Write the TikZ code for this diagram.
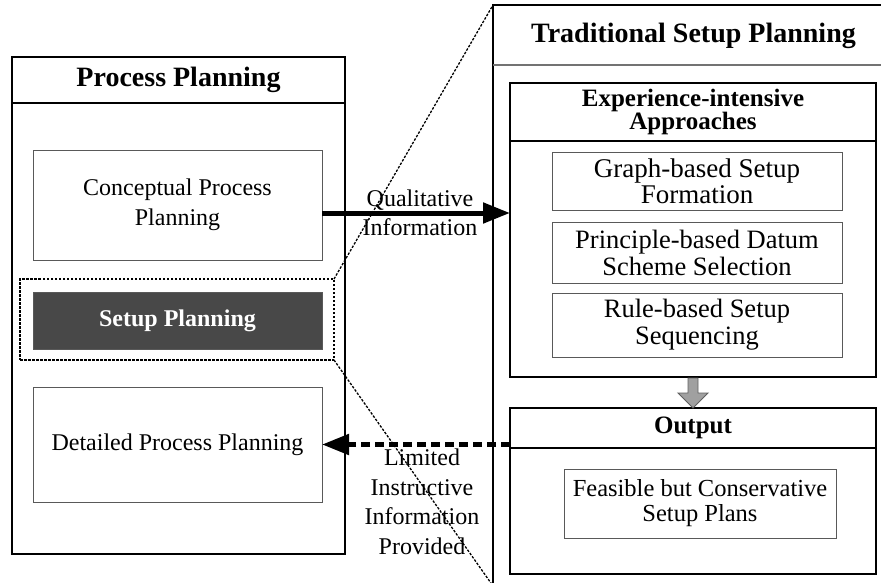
\documentclass[tikz,border=0pt]{standalone}
\usepackage{fontspec}
\setmainfont{Liberation Serif}
\usetikzlibrary{positioning, arrows.meta, calc}

\definecolor{spdark}{RGB}{72,72,72}
\definecolor{arrfill}{RGB}{160,160,160}
\definecolor{arrline}{RGB}{95,95,95}

\begin{document}
\begin{tikzpicture}[x=1pt, y=-1pt,
	bigbox/.style={draw, line width=2pt, inner sep=0pt, outer sep=0pt},
	headbox/.style={bigbox, font=\bfseries\fontsize{28}{32}\selectfont},
	subhead/.style={bigbox, align=center, font=\bfseries\fontsize{25}{21}\selectfont},
	stepbox/.style={draw=black!65, line width=0.9pt, inner sep=0pt, outer sep=0pt, align=center, font=\fontsize{24}{27}\selectfont},
	lbl/.style={align=center, inner sep=0pt, font=\fontsize{24}{29.5}\selectfont},
	bigarrow/.style={line width=5pt, -{Triangle[length=27pt, width=20pt]}},
	dasharrow/.style={bigarrow, dash pattern=on 9pt off 5pt},
	zoomline/.style={line width=1.3pt, dash pattern=on 2.5pt off 1.5pt},
	grayarr/.style={fill=arrfill, draw=arrline, line width=0.9pt}]
	
	% Рамка рисунка
	\useasboundingbox (0,0) rectangle (881,583);
	\clip (0,0) rectangle (881,583);
	
	% Левый блок: планирование процесса
	\node[headbox, minimum width=333pt, minimum height=46pt] (pphead) at (178.5,80) {Process Planning};
	\node[bigbox, minimum width=333pt, minimum height=451pt, below=0pt of pphead] (ppbody) {};
	
	\node[stepbox, minimum width=289pt, minimum height=110pt, font=\fontsize{24}{30}\selectfont] (conc) at (177.5,205) {Conceptual Process\\Planning};
	\node[draw, line width=1.3pt, dash pattern=on 2.5pt off 1.5pt, minimum width=314pt, minimum height=81pt, inner sep=0pt, outer sep=0pt] (spframe) at (177,319.5) {};
	\node[stepbox, fill=spdark, text=white, minimum width=289pt, minimum height=57pt, font=\bfseries\fontsize{24}{27}\selectfont] (sp) at (177.5,320.5) {Setup Planning};
	\node[stepbox, minimum width=289pt, minimum height=115pt] (det) at (177.5,444.5) {Detailed Process Planning};
	
	% Правый блок: традиционное планирование установов
	\node[draw, line width=1.4pt, minimum width=401pt, minimum height=581pt, inner sep=0pt, outer sep=0pt] (tsp) at (693.5,295.5) {};
	\node[font=\bfseries\fontsize{28}{32}\selectfont] (tsptitle) at (693.5,36) {Traditional Setup Planning};
	\coordinate (tspsep) at (0,65);
	\draw[black!55, line width=1.2pt] (tsp.west |- tspsep) -- (tsp.east |- tspsep);
	
	\node[subhead, minimum width=366pt, minimum height=58pt] (exphead) at (693,112) {Experience-intensive\\Approaches};
	\node[bigbox, minimum width=366pt, minimum height=236pt, below=0pt of exphead] (expbody) {};
	\node[stepbox, minimum width=290pt, minimum height=58pt, font=\fontsize{27}{26}\selectfont] (graph) at (697,181) {Graph-based Setup\\Formation};
	\node[stepbox, minimum width=290pt, minimum height=61pt, font=\fontsize{26.5}{27}\selectfont] (princ) at (697,252.5) {Principle-based Datum\\Scheme Selection};
	\node[stepbox, minimum width=290pt, minimum height=64pt, font=\fontsize{26.5}{27}\selectfont] (rule) at (697,325) {Rule-based Setup\\Sequencing};
	
	\node[subhead, minimum width=366pt, minimum height=40pt] (outhead) at (693,428) {Output};
	\node[bigbox, minimum width=366pt, minimum height=126pt, below=0pt of outhead] (outbody) {};
	\node[stepbox, minimum width=272pt, minimum height=69pt, font=\fontsize{24.5}{25}\selectfont] (feas) at (700,503.5) {Feasible but Conservative\\Setup Plans};
	
	% Серая стрелка вниз
	\draw[grayarr] ($(expbody.south)+(-5,1)$) -- ($(outhead.north)+(-5,-15)$) -- ($(outhead.north)+(-15,-15)$) -- (outhead.north) -- ($(outhead.north)+(15,-15)$) -- ($(outhead.north)+(5,-15)$) -- ($(expbody.south)+(5,1)$) -- cycle;
	
	% Стрелки между блоками
	\coordinate (qa) at (0,213);
	\draw[bigarrow] (conc.east |- qa) -- (expbody.west |- qa);
	\draw[dasharrow] (outbody.west |- det.east) -- (det.east);
	
	% Подписи стрелок
	\node[lbl] (qlbl) at (420,213) {Qualitative\\Information};
	\node[lbl] (llbl) at (422,502) {Limited\\Instructive\\Information\\Provided};
	
	% Линии увеличения
	\draw[zoomline] (spframe.north east) -- (tsp.north west);
	\draw[zoomline] (spframe.south east) -- (tsp.south west);
\end{tikzpicture}
\end{document}
